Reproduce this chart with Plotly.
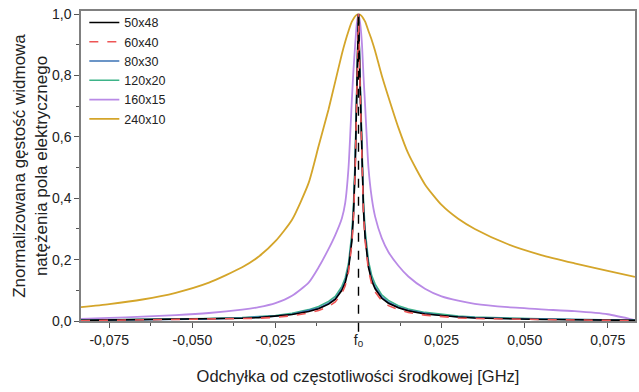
import plotly.graph_objects as go

# Frequency offset grid [GHz]
freq = [-0.0835, -0.075, -0.065, -0.055, -0.045, -0.035, -0.03, -0.025, -0.02, -0.015,
        -0.012, -0.009, -0.007, -0.005, -0.004, -0.003, -0.002, -0.0015, -0.001, -0.0005,
        0.0,
        0.0005, 0.001, 0.0015, 0.002, 0.003, 0.004, 0.005, 0.007, 0.009, 0.012,
        0.015, 0.02, 0.025, 0.03, 0.035, 0.045, 0.055, 0.065, 0.075, 0.0832]

s_50x48 = [0.002, 0.003, 0.004, 0.005, 0.006, 0.009, 0.011, 0.015, 0.021, 0.031,
           0.040, 0.055, 0.070, 0.100, 0.125, 0.170, 0.260, 0.350, 0.500, 0.750,
           1.0,
           0.760, 0.510, 0.360, 0.270, 0.175, 0.130, 0.105, 0.074, 0.058, 0.043,
           0.033, 0.023, 0.017, 0.013, 0.010, 0.007, 0.005, 0.004, 0.003, 0.002]

s_60x40 = [0.001, 0.002, 0.003, 0.004, 0.005, 0.007, 0.009, 0.012, 0.017, 0.026,
           0.034, 0.047, 0.062, 0.090, 0.115, 0.160, 0.250, 0.340, 0.490, 0.740,
           1.0,
           0.750, 0.500, 0.350, 0.260, 0.165, 0.120, 0.095, 0.066, 0.050, 0.037,
           0.028, 0.019, 0.014, 0.010, 0.008, 0.006, 0.004, 0.003, 0.002, 0.001]

s_80x30 = [0.002, 0.003, 0.004, 0.005, 0.007, 0.010, 0.012, 0.016, 0.022, 0.033,
           0.042, 0.058, 0.073, 0.104, 0.130, 0.176, 0.268, 0.360, 0.510, 0.760,
           1.0,
           0.770, 0.520, 0.370, 0.278, 0.182, 0.135, 0.110, 0.078, 0.061, 0.045,
           0.035, 0.025, 0.018, 0.014, 0.011, 0.008, 0.006, 0.004, 0.003, 0.002]

s_120x20 = [0.003, 0.004, 0.005, 0.006, 0.008, 0.011, 0.014, 0.018, 0.025, 0.037,
            0.047, 0.064, 0.080, 0.113, 0.140, 0.188, 0.285, 0.380, 0.530, 0.780,
            1.0,
            0.790, 0.540, 0.390, 0.295, 0.195, 0.147, 0.120, 0.085, 0.067, 0.050,
            0.039, 0.028, 0.021, 0.016, 0.013, 0.009, 0.007, 0.005, 0.004, 0.003]

s_160x15 = [0.007, 0.010, 0.014, 0.019, 0.026, 0.037, 0.045, 0.058, 0.082, 0.125,
            0.175, 0.235, 0.280, 0.335, 0.385, 0.500, 0.720, 0.820, 0.900, 0.970,
            1.0,
            0.970, 0.910, 0.800, 0.700, 0.500, 0.400, 0.340, 0.270, 0.225, 0.180,
            0.145, 0.105, 0.080, 0.066, 0.056, 0.045, 0.038, 0.032, 0.022, 0.003]

s_240x10 = [0.045, 0.055, 0.070, 0.092, 0.125, 0.175, 0.210, 0.260, 0.330, 0.450,
            0.570, 0.690, 0.780, 0.870, 0.910, 0.945, 0.975, 0.985, 0.993, 0.998,
            1.0,
            0.998, 0.993, 0.985, 0.975, 0.945, 0.915, 0.880, 0.800, 0.730, 0.630,
            0.545, 0.445, 0.378, 0.333, 0.300, 0.250, 0.215, 0.188, 0.163, 0.144]

series_names = ["50x48", "60x40", "80x30", "120x20", "160x15", "240x10"]
series_vals = [s_50x48, s_60x40, s_80x30, s_120x20, s_160x15, s_240x10]
colors = ["#000000", "#ee5555", "#3a72b5", "#3db388", "#b98ae6", "#d4a52a"]
dashes = ["solid", "dash", "solid", "solid", "solid", "solid"]

x_tickvals = [-0.075, -0.05, -0.025, 0.0, 0.025, 0.05, 0.075]
x_ticktext = ["-0,075", "-0,050", "-0,025", "f<sub>0</sub>", "0,025", "0,050", "0,075"]

fig = go.Figure()
draw_order = [5, 4, 3, 2, 0, 1]
for i in draw_order:
    fig.add_trace(go.Scatter(
        x=freq, y=series_vals[i], mode="lines", name=series_names[i],
        legendrank=i + 1,
        line=dict(color=colors[i], width=1.8 if i >= 4 else 1.6, dash=dashes[i],
                  shape="spline" if i >= 4 else "linear", smoothing=0.6),
    ))

fig.add_shape(type="line", xref="x", yref="paper", x0=0, x1=0, y0=-0.035, y1=0.99,
              line=dict(color="black", width=1.4, dash="dash"), layer="above")

axis_common = dict(
    showline=True, linecolor="#808080", linewidth=1.5, mirror=True,
    ticks="outside", ticklen=5, tickcolor="#555555", tickwidth=1,
    showgrid=False, zeroline=False, automargin=False,
    tickfont=dict(family="Liberation Sans, Arial, sans-serif", size=14, color="#222222"),
)

fig.update_layout(
    width=639, height=392,
    margin=dict(l=81, r=4, t=11, b=71),
    paper_bgcolor="white", plot_bgcolor="white",
    separators=", ",
    font=dict(family="Liberation Sans, Arial, sans-serif", color="#222222"),
    legend=dict(x=0.006, y=1.01, xanchor="left", yanchor="top",
                bgcolor="rgba(0,0,0,0)", font=dict(size=12.5),
                traceorder="normal"),
    xaxis=dict(
        range=[-0.0835, 0.0832], tickmode="array", tickvals=x_tickvals,
        ticktext=x_ticktext,
        minor=dict(dtick=0.0125, tick0=0, ticks="outside", ticklen=3, tickcolor="#555555"),
        title=dict(text="Odchyłka od częstotliwości środkowej [GHz]",
                   font=dict(size=16.5), standoff=22),
        **axis_common,
    ),
    yaxis=dict(
        range=[0, 1.01], dtick=0.2, tick0=0, tickformat=".1f",
        minor=dict(dtick=0.1, tick0=0, ticks="outside", ticklen=3, tickcolor="#555555"),
        title=dict(text="Znormalizowana gęstość widmowa<br>natężenia pola elektrycznego",
                   font=dict(size=17), standoff=0),
        **axis_common,
    ),
)

fig.write_html("out.html", config={"displayModeBar": False},
               post_script="document.body.style.margin='0';document.body.style.overflow='hidden';")
